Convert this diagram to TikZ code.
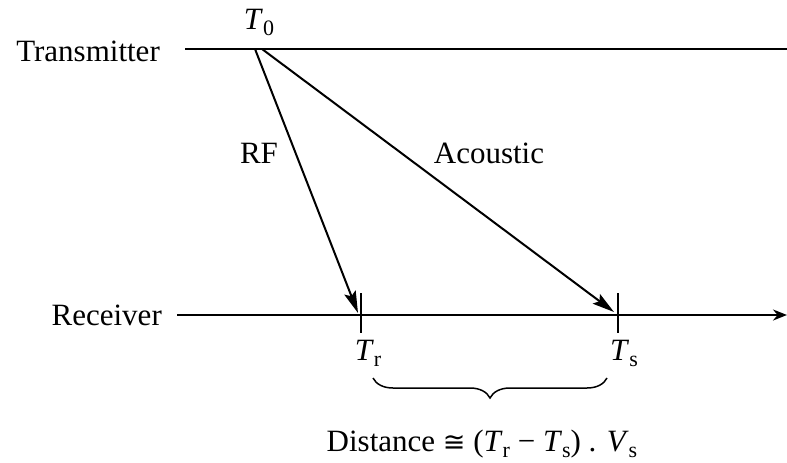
\documentclass[tikz,border=0pt]{standalone}
\usepackage{fontspec}
\setmainfont{Liberation Serif}[Ligatures=TeX]
\newfontfamily\symfont{DejaVu Sans}
\usetikzlibrary{arrows.meta,decorations.pathreplacing}
\newcommand{\sbx}[1]{\raisebox{-0.22em}{\fontsize{22}{24}\selectfont #1}}
\begin{document}
\begin{tikzpicture}[x=1pt,y=-1pt,
  lbl/.style={font=\rmfamily\fontsize{31}{36}\selectfont, inner sep=0pt},
  axis/.style={line width=1.8pt},
  sig/.style={line width=2pt, -{Stealth[length=22pt,width=12pt,inset=4pt]}},
  tickmark/.style={line width=1.6pt},
  brc/.style={line width=1.5pt, decorate, decoration={brace, mirror, amplitude=20pt}}]
\useasboundingbox (0,0) rectangle (787,463);
\node[lbl, anchor=base east] (tx) at (160,61) {Transmitter};
\node[lbl, anchor=base east] (rx) at (162,325) {Receiver};
\coordinate (txs) at (185,49);
\coordinate (txe) at (787,49);
\coordinate (rxs) at (177,315);
\coordinate (rxe) at (787,315);
\draw[axis] (txs) -- (txe);
\draw[axis, -{Stealth[length=14pt,width=11pt]}] (rxs) -- (rxe);
\coordinate (t0a) at (255,49);
\coordinate (t0b) at (262,49);
\coordinate (tr) at (361,315);
\coordinate (ts) at (618,315);
\coordinate (rfend) at (358,313);
\coordinate (acend) at (614,312);
\draw[tickmark] ([yshift=22pt]tr) -- ([yshift=-18pt]tr);
\draw[tickmark] ([yshift=22pt]ts) -- ([yshift=-18pt]ts);
\draw[sig] (t0a) -- (rfend);
\draw[sig] (t0b) -- (acend);
\node[lbl, anchor=base] (t0) at (259,29) {\textit{T}\sbx{0}};
\node[lbl, anchor=base] (rf) at (259,163) {RF};
\node[lbl, anchor=base] (ac) at (489,163) {Acoustic};
\node[lbl, anchor=base] (trl) at (368,360) {\textit{T}\sbx{r}};
\node[lbl, anchor=base] (tsl) at (624,360) {\textit{T}\sbx{s}};
\coordinate (bl) at (373,378);
\coordinate (br) at (607,378);
\draw[brc] (bl) -- (br);
\node[lbl, anchor=base] (dist) at (482,451) {Distance {\symfont\fontsize{27}{30}\selectfont ≅} (\textit{T}\sbx{r} − \textit{T}\sbx{s}) . \textit{V}\sbx{s}};
\end{tikzpicture}
\end{document}
